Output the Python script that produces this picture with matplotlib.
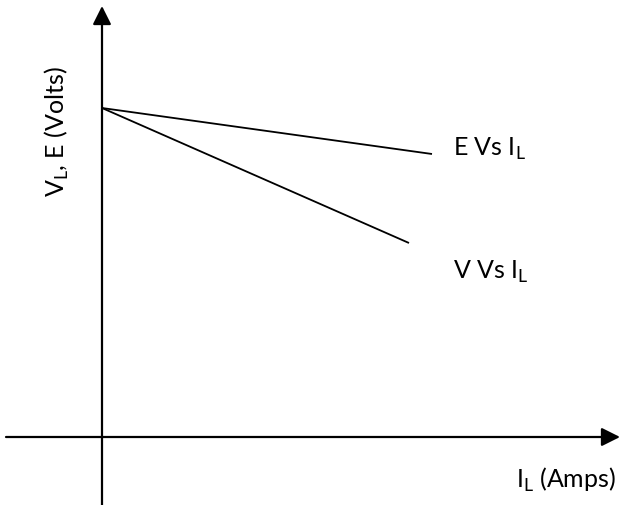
import matplotlib
matplotlib.use("Agg")
import matplotlib.pyplot as plt
from matplotlib.patches import ArrowStyle

# Data (arbitrary units)
i_e = [0.0, 3.30]
e_vals = [3.29, 2.83]
i_v = [0.0, 3.07]
v_vals = [3.29, 1.94]

labels = {
    "e": r"E Vs I$_\mathregular{L}$",
    "v": r"V Vs I$_\mathregular{L}$",
    "x": r"I$_\mathregular{L}$ (Amps)",
    "y": r"V$_\mathregular{L}$, E (Volts)",
}

plt.rcParams['font.family'] = ['Lato', 'DejaVu Sans']
FS = 18

fig = plt.figure(figsize=(6.24, 5.06), dpi=100)
ax = fig.add_axes([0, 0, 1, 1])
ax.set_xlim(-1.02, 5.22)
ax.set_ylim(-0.68, 4.38)
ax.axis('off')

style = ArrowStyle('-|>', head_length=0.8, head_width=0.4)
# x axis
ax.annotate('', xy=(5.18, 0), xytext=(-0.96, 0),
            arrowprops=dict(arrowstyle=style, color='black', lw=1.6,
                            mutation_scale=14, shrinkA=0, shrinkB=0))
# y axis
ax.annotate('', xy=(0, 4.31), xytext=(0, -0.70),
            arrowprops=dict(arrowstyle=style, color='black', lw=1.6,
                            mutation_scale=14, shrinkA=0, shrinkB=0))

ax.plot(i_e, e_vals, color='black', lw=1.3, solid_capstyle='butt')
ax.plot(i_v, v_vals, color='black', lw=1.3, solid_capstyle='butt')

ax.text(3.51, 2.82, labels["e"], fontsize=FS, ha='left', va='baseline')
ax.text(3.51, 1.59, labels["v"], fontsize=FS, ha='left', va='baseline')
ax.text(4.14, -0.50, labels["x"], fontsize=FS, ha='left', va='baseline')
ax.text(-0.45, 3.06, labels["y"], fontsize=FS, ha='center', va='center',
        rotation=90)

fig.savefig('out.png', dpi=100)
